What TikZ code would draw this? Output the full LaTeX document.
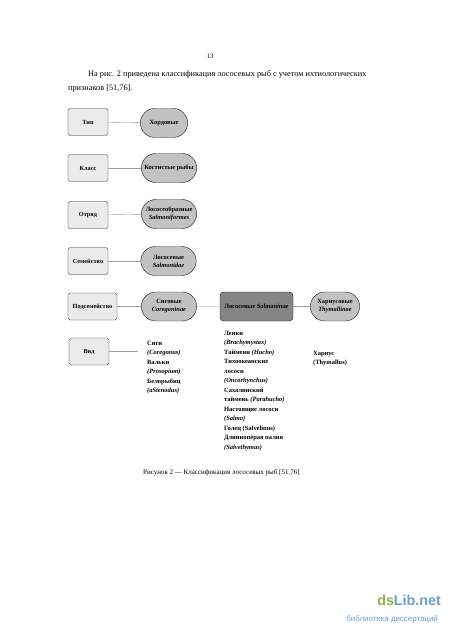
\documentclass[tikz,border=0pt]{standalone}
\usepackage{fontspec}
\setmainfont{Liberation Serif}
\newfontfamily\wmfont{Liberation Sans}
\usetikzlibrary{shapes.misc}
\def\PXU{0.4667mm}
\definecolor{lvlfill}{gray}{0.92}
\definecolor{taxfill}{gray}{0.76}
\definecolor{darkfill}{gray}{0.52}
\definecolor{linkcol}{gray}{0.62}
\definecolor{wmgreen}{HTML}{8DB24A}
\definecolor{wmblue}{HTML}{6F9DC9}
\begin{document}
\begin{tikzpicture}[x=0.4667mm,y=-0.4667mm,
  lvl/.style={draw=black!85, line width=0.6pt, fill=lvlfill, rounded corners=2.5pt,
    minimum width=40*\PXU, minimum height=27*\PXU, inner sep=0.5pt,
    font=\fontsize{8.3}{9.5}\selectfont\bfseries, align=center},
  tax/.style={rounded rectangle, draw=black!85, line width=0.6pt, fill=taxfill,
    minimum width=56*\PXU, minimum height=29*\PXU, inner sep=0.5pt,
    font=\fontsize{8.5}{10.5}\selectfont\bfseries, align=center},
  dark/.style={draw=black!85, line width=0.6pt, fill=darkfill, rounded corners=5pt,
    minimum width=73*\PXU, minimum height=29*\PXU, inner sep=0.5pt,
    font=\fontsize{8.5}{10.5}\selectfont\bfseries, align=center},
  link/.style={draw=linkcol, line width=0.5pt},
  list/.style={anchor=north west, inner sep=0pt, align=left,
    font=\fontsize{8.6}{12.6}\selectfont\bfseries},
  page/.style={anchor=base west, inner sep=0pt, font=\fontsize{11}{13}\selectfont}
]
\useasboundingbox (0,0) rectangle (450,637);
\fill[white] (0,0) rectangle (450,637);

% page text
\node[page, anchor=base, font=\fontsize{9}{11}\selectfont] (pnum) at (210,58) {13};
\node[page] (par1) at (88,76) {На рис. 2 приведена классификация лососевых рыб с учетом ихтиологических};
\node[page] (par2) at (68,90) {признаков [51,76].};

% levels
\node[lvl] (tip)  at (88,122) {Тип};
\node[lvl] (klass) at (88,168) {Класс};
\node[lvl] (otr)  at (88,215) {Отряд};
\node[lvl] (sem)  at (88,261) {Семейство};
\node[lvl, minimum width=49*\PXU] (pods) at (92.5,306.5) {Подсемейство};
\node[lvl] (vid)  at (89,351.5) {Вид};

% taxa
\node[tax, minimum width=48*\PXU] (hord) at (164,123) {Хордовые};
\node[tax] (kost) at (169,168) {Костистые рыбы};
\node[tax] (lsf)  at (169,214) {Лососеобразные\\\textit{Salmoniformes}};
\node[tax] (lsv)  at (168.5,261) {Лососевые\\\textit{Salmonidae}};
\node[tax] (sig)  at (169,306.5) {Сиговые\\\textit{Coregoninae}};
\node[dark] (salm) at (256.5,306.5) {Лососевые \textit{Salmoninae}};
\node[tax, minimum width=50*\PXU] (har) at (335,306.5) {Хариусовые\\\textit{Thymallinae}};

\coordinate (vidend) at (138,351.5);

\draw[link] (tip) -- (hord);
\draw[link] (klass) -- (kost);
\draw[link] (otr) -- (lsf);
\draw[link] (sem) -- (lsv);
\draw[link] (pods) -- (sig);
\draw[link] (sig) -- (salm);
\draw[link] (salm) -- (har);
\draw[link] (vid) -- (vidend);

% species lists
\node[list] (l1) at (147,341) {Сиги\\\textit{(Coregonus)}\\Вальки\\\textit{(Prosopium)}\\Белорыбиц\\\textit{(aStenodus)}};
\node[list] (l2) at (224,331) {Ленки\\\textit{(Brachymystax)}\\Таймени \textit{(Hucho)}\\Тихоокеанские\\лососи\\\textit{(Oncorhynchus)}\\Сахалинский\\таймень \textit{(Parahucho)}\\Настоящие лососи\\\textit{(Salmo)}\\Голец (Salvelinus)\\Длиннопёрая палия\\\textit{(Salvethymas)}};
\node[list] (l3) at (313,351) {Хариус\\(Thymallus)};

% caption
\node[page, font=\fontsize{9.3}{11}\selectfont] (cap) at (143,474) {Рисунок 2 — Классификация лососевых рыб [51,76]};

% watermark
\node[anchor=base east, inner sep=0pt, font=\wmfont\bfseries\fontsize{19}{20}\selectfont] (wm1) at (441,605) {\textcolor{wmgreen}{ds}\textcolor{wmblue}{Lib.net}};
\node[anchor=base east, inner sep=0pt, font=\wmfont\fontsize{10.5}{12}\selectfont, text=wmblue] (wm2) at (438,621) {библиотека диссертаций};
\end{tikzpicture}
\end{document}
